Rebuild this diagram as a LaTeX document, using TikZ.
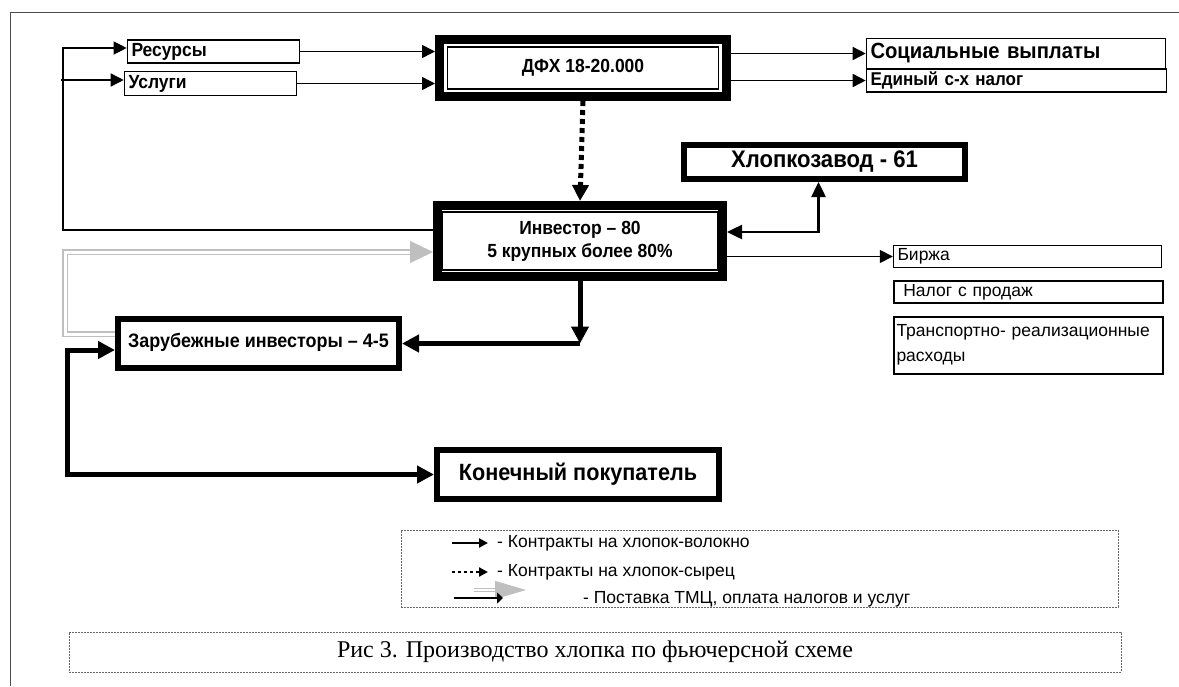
\documentclass[tikz,border=0pt]{standalone}
\usepackage{fontspec}
\setmainfont{Liberation Sans}
\newfontfamily\narrowsans[FakeStretch=0.92]{Liberation Sans}
\newfontfamily\capserif{Liberation Serif}
\usetikzlibrary{arrows.meta,calc}

\begin{document}
\begin{tikzpicture}[x=1pt, y=-1pt,
    box/.style={draw, line width=1.6pt, inner sep=3pt, align=left},
    fatbox/.style={draw, line width=6pt, inner sep=3pt, align=center},
    dblbox/.style={draw, line width=9pt, inner sep=3pt, align=center},
    bold/.style 2 args={font=\narrowsans\bfseries\fontsize{#1}{#2}\selectfont},
    plain/.style 2 args={font=\fontsize{#1}{#2}\selectfont},
    thinarr/.style={-{Triangle[length=13pt,width=13pt]}, line width=1.6pt},
    fatarr/.style={-{Triangle[length=17pt,width=17pt]}, line width=5pt},
    dotarr/.style={-{Triangle[length=16pt,width=16pt]}, line width=5pt, dash pattern=on 5pt off 4pt},
    midarr/.style={{Triangle[length=15pt,width=14pt]}-{Triangle[length=15pt,width=14pt]}, line width=2.5pt},
    supply/.style={draw=black!25, line width=1.5pt, double=white, double distance=3pt},
    supplytip/.style={-{Triangle[length=23pt,width=22pt]}, black!25, line width=1pt},
    dotframe/.style={draw=black!60, line width=0.8pt, dash pattern=on 2pt off 1pt}
]
    \useasboundingbox (0,0) rectangle (1179,686);
    \draw[black!70, line width=1pt] (10,686) -- (10,12) -- (1179,12);

    % Nodes
    \node[box, bold={19}{21}, minimum width=172pt, minimum height=22pt, text width=164pt] (res) at (213.5,51.5) {\raisebox{-3pt}{Ресурсы}};
    \node[box, bold={19}{21}, minimum width=172pt, minimum height=24pt, text width=164pt] (usl) at (210.5,83.5) {\raisebox{-3pt}{Услуги}};
    \node[dblbox, bold={19}{23}, minimum width=287pt, minimum height=57pt] (dfh) at (583,68) {ДФХ 18-20.000};
    \node[box, bold={22}{25}, minimum width=299pt, minimum height=30pt, text width=291pt] (soc) at (1016,53.5) {\raisebox{-2pt}{Социальные выплаты}};
    \node[box, bold={18.5}{21}, minimum width=300pt, minimum height=22pt, text width=292pt] (edn) at (1016.5,80.5) {\raisebox{-2pt}{Единый с-х налог}};
    \node[fatbox, bold={24}{26}, minimum width=281pt, minimum height=34pt] (khl) at (824.5,162) {Хлопкозавод - 61};
    \node[dblbox, bold={19}{23}, minimum width=285pt, minimum height=71pt] (inv) at (580,241) {Инвестор – 80\\5 крупных более 80\%};
    \node[box, line width=1.4pt, plain={17.5}{19}, minimum width=268pt, minimum height=22pt, text width=260pt] (bir) at (1027.5,256.5) {Биржа};
    \node[box, line width=2pt, plain={17.5}{19}, minimum width=269pt, minimum height=21pt, text width=261pt] (nal) at (1028,292) {\ Налог с продаж};
    \node[box, line width=2pt, plain={17.5}{25}, minimum width=269pt, minimum height=57pt, text width=263pt] (trn) at (1028,345) {Транспортно- реализационные\\расходы};
    \node[fatbox, bold={19.5}{22}, minimum width=281pt, minimum height=49pt] (zar) at (258.5,343.5) {\raisebox{7pt}{Зарубежные инвесторы – 4-5}};
    \node[fatbox, bold={23.5}{26}, minimum width=282pt, minimum height=49pt] (kon) at (578,474.5) {Конечный покупатель};

    % inner frames of the double boxes
    \draw[line width=1.8pt] ([shift={(12.5pt,-12pt)}]dfh.north west) rectangle ([shift={(-12.5pt,12pt)}]dfh.south east);
    \draw[line width=1.8pt] ([shift={(9.5pt,-11pt)}]inv.north west) rectangle ([shift={(-9.5pt,11pt)}]inv.south east);

    % Coordinates
    \coordinate (fbc) at (63,48);
    \coordinate (usrc) at (61,80);
    \coordinate (jn) at (580,343.5);
    \coordinate (kc) at (67,474.5);
    \coordinate (gleft) at (65,252);
    \coordinate (gtail) at (410,252);

    % Lines
    \draw[thinarr, line width=1.2pt] ([yshift=11pt]inv.west) -| (fbc) -- (fbc -| res.west);
    \draw[thinarr] (usrc) -- (usrc -| usl.west);
    \draw[thinarr] (res.east) -- (res.east -| dfh.west);
    \draw[thinarr] (usl.east) -- (usl.east -| dfh.west);
    \draw[thinarr] (soc.west -| dfh.east) -- (soc.west);
    \draw[thinarr] (edn.west -| dfh.east) -- (edn.west);
    \draw[dotarr] (dfh.south) -- (inv.north);
    \draw[midarr] ([xshift=-6pt]khl.south) |- ([yshift=9pt]inv.east);
    \draw[thinarr] (bir.west -| inv.east) -- (bir.west);
    \draw[fatarr] (inv.south) -- (jn);
    \draw[fatarr] (jn) -- (jn -| zar.east);
    \draw[supply] ([yshift=9.5pt]zar.west) -| (gleft) -- (gtail);
    \draw[supplytip] (gtail) -- ([yshift=-11pt]inv.west);
    \draw[fatarr, {Triangle[length=17pt,width=17pt]}-{Triangle[length=17pt,width=17pt]}] ([yshift=-6.5pt]zar.west) -| (kc) -- (kon.west);

    % Legend
    \node[dotframe, minimum width=717pt, minimum height=77pt] (legend) at (759.5,568.5) {};
    \node[plain={17.5}{19}, anchor=west, inner sep=0pt] (lfib) at (497,543) {- Контракты на хлопок-волокно};
    \node[plain={17.5}{19}, anchor=west, inner sep=0pt] (lraw) at (497,572) {- Контракты на хлопок-сырец};
    \node[plain={17.5}{19}, anchor=west, inner sep=0pt] (lsup) at (583,599) {- Поставка ТМЦ, оплата налогов и услуг};
    \coordinate (l1a) at (452,543);
    \coordinate (l1b) at (488,543);
    \coordinate (l2a) at (452,572);
    \coordinate (l2b) at (488,572);
    \coordinate (l3a) at (474,590);
    \coordinate (l3b) at (495,590);
    \coordinate (l3c) at (526,590);
    \coordinate (l4a) at (454,598);
    \coordinate (l4b) at (503,598);
    \draw[-{Triangle[length=9pt,width=9pt]}, line width=2.5pt] (l1a) -- (l1b);
    \draw[-{Triangle[length=9pt,width=9pt]}, line width=2.5pt, dash pattern=on 3pt off 3pt] (l2a) -- (l2b);
    \draw[draw=black!25, line width=1pt, double=white, double distance=1.5pt] (l3a) -- (l3b);
    \draw[-{Triangle[length=31pt,width=18pt]}, black!25, line width=1pt] (l3b) -- (l3c);
    \draw[-{Triangle[length=6pt,width=11pt]}, line width=2.5pt] (l4a) -- (l4b);

    % Caption
    \node[dotframe, minimum width=1052pt, minimum height=40pt, font=\capserif\fontsize{24}{26}\selectfont] (caption) at (595,652) {Рис 3. Производство хлопка по фьючерсной схеме};
\end{tikzpicture}
\end{document}
